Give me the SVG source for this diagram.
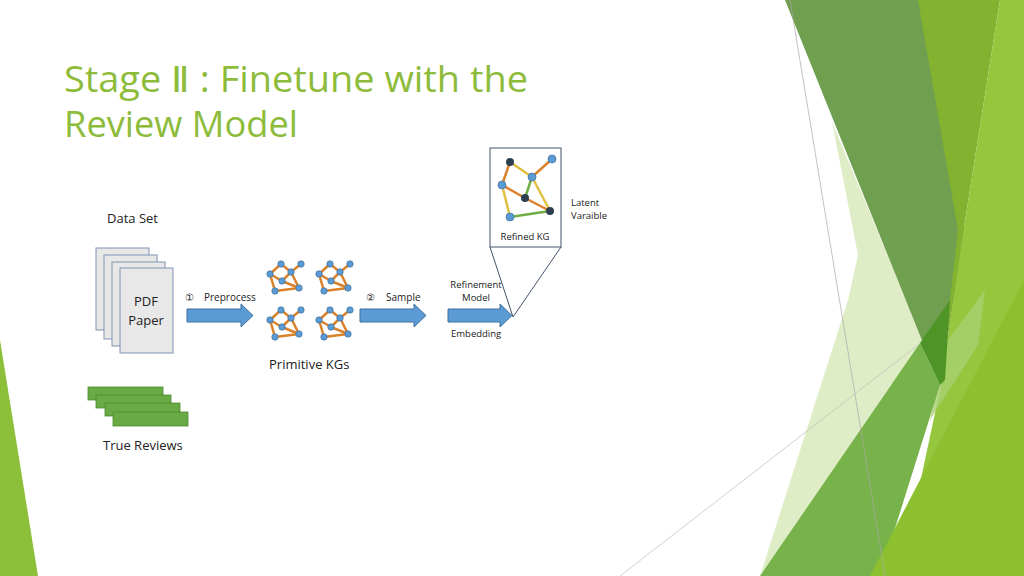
<svg xmlns="http://www.w3.org/2000/svg" width="1024" height="576" viewBox="0 0 1024 576">
<defs>
<style>
.t{font-family:"Open Sans","Liberation Sans",sans-serif;fill:#222}
.ttl{font-family:"Open Sans","Liberation Sans",sans-serif;fill:#8dbb3a;font-size:36px}
.pg{fill:#e8e8e8;stroke:#7f93b6;stroke-width:1}
.gb{fill:#6aaa45;stroke:#4e8a30;stroke-width:0.8}
.ar{fill:#5b9bd5;stroke:#41719c;stroke-width:1}
.e{stroke:#d9822b;stroke-width:2.5}
.n{fill:#5b9bd5;stroke:#41719c;stroke-width:0.7}
</style>
<g id="kg">
<g class="e"><line x1="11" y1="0" x2="0" y2="10"/><line x1="11" y1="0" x2="21" y2="8"/><line x1="21" y1="8" x2="31" y2="0"/><line x1="0" y1="10" x2="12" y2="17"/><line x1="21" y1="8" x2="12" y2="17"/><line x1="0" y1="10" x2="5" y2="27"/><line x1="12" y1="17" x2="29" y2="24"/><line x1="21" y1="8" x2="29" y2="24"/><line x1="5" y1="27" x2="29" y2="24"/></g>
<g class="n"><circle cx="11" cy="0" r="3.2"/><circle cx="31" cy="0" r="3.2"/><circle cx="21" cy="8" r="3.2"/><circle cx="0" cy="10" r="3.2"/><circle cx="12" cy="17" r="3.2"/><circle cx="5" cy="27" r="3.2"/><circle cx="29" cy="24" r="3.2"/></g>
</g>
</defs>
<rect width="1024" height="576" fill="#fff"/>
<g id="background">
<polygon points="832,122 925,345 790,576 760,576 848,300 858,255" fill="#dcebc0" opacity="0.9"/>
<polygon points="785,0 920,0 965,230 940,385" fill="#6f9f4f"/>
<polygon points="918,0 1000,0 962,240 940,385 958,230" fill="#82b230"/>
<polygon points="1000,0 1024,0 1024,576 900,576 940,390 962,240" fill="#96c63e"/>
<polygon points="948,340 985,290 978,345 930,420" fill="#a8d070" opacity="0.8"/>
<polygon points="760,576 920,343 940,385 880,576" fill="#78b24a"/>
<polygon points="920,343 950,300 945,380 940,385" fill="#4f9426"/>
<polygon points="870,576 1024,280 1024,576" fill="#8dc02f"/>
<polygon points="0,340 38,576 0,576" fill="#8dc03a"/>
<line x1="790" y1="0" x2="885" y2="576" stroke="#a9a9a9" stroke-width="0.7"/>
<line x1="620" y1="576" x2="918" y2="345" stroke="#bbbbbb" stroke-width="0.7"/>
</g>
<text class="ttl" x="64" y="92" textLength="464" lengthAdjust="spacingAndGlyphs">Stage Ⅱ : Finetune with the</text>
<text class="ttl" x="64" y="137" textLength="234" lengthAdjust="spacingAndGlyphs">Review Model</text>
<g id="dataset">
<text class="t" x="107" y="223" font-size="13">Data Set</text>
<rect class="pg" x="96" y="248" width="53" height="82"/>
<rect class="pg" x="104" y="255" width="53" height="84"/>
<rect class="pg" x="112" y="262" width="53" height="84"/>
<rect class="pg" x="120" y="268" width="53" height="85"/>
<text class="t" x="146" y="306" font-size="13" text-anchor="middle">PDF</text>
<text class="t" x="146" y="325" font-size="13" text-anchor="middle">Paper</text>
</g>
<g id="reviews">
<rect class="gb" x="88" y="387" width="75" height="13"/>
<rect class="gb" x="96" y="395" width="75" height="13"/>
<rect class="gb" x="105" y="403" width="75" height="13"/>
<rect class="gb" x="113" y="412" width="75" height="14"/>
<text class="t" x="103" y="450" font-size="13">True Reviews</text>
</g>
<g id="connectors">
<polygon class="ar" points="187,309 241,309 241,304 253,315.5 241,327 241,322 187,322"/>
<polygon class="ar" points="360,309 414,309 414,304 426,315.5 414,327 414,322 360,322"/>
<polygon class="ar" points="448,309 500,309 500,304 512,315.5 500,327 500,322 448,322"/>
<polyline points="490,247 513,317 561,247" fill="none" stroke="#44546a" stroke-width="1"/>
</g>
<text class="t" x="185" y="301" font-size="10">①</text>
<text class="t" x="204" y="301" font-size="10">Preprocess</text>
<text class="t" x="366" y="301" font-size="10">②</text>
<text class="t" x="386" y="301" font-size="10">Sample</text>
<text class="t" x="476" y="288" font-size="9.5" text-anchor="middle">Refinement</text>
<text class="t" x="476" y="301" font-size="9.5" text-anchor="middle">Model</text>
<text class="t" x="451" y="337" font-size="9.5">Embedding</text>
<g id="primitive">
<use href="#kg" x="270" y="264"/>
<use href="#kg" x="319" y="264"/>
<use href="#kg" x="270" y="310"/>
<use href="#kg" x="319" y="310"/>
<text class="t" x="269" y="369" font-size="13">Primitive KGs</text>
</g>
<g id="refined">
<rect x="490" y="148" width="71" height="99" fill="#fff" stroke="#44546a" stroke-width="1"/>
<g stroke-width="2.5">
<line x1="510" y1="162" x2="532" y2="177" stroke="#e0c040"/>
<line x1="532" y1="177" x2="552" y2="159" stroke="#d9822b"/>
<line x1="510" y1="162" x2="502" y2="185" stroke="#d9822b"/>
<line x1="502" y1="185" x2="525" y2="198" stroke="#d9822b"/>
<line x1="532" y1="177" x2="525" y2="198" stroke="#70ad47"/>
<line x1="532" y1="177" x2="550" y2="211" stroke="#e0c040"/>
<line x1="525" y1="198" x2="550" y2="211" stroke="#d9822b"/>
<line x1="502" y1="185" x2="510" y2="217" stroke="#e0c040"/>
<line x1="510" y1="217" x2="550" y2="211" stroke="#70ad47"/>
</g>
<g>
<circle cx="510" cy="162" r="4" fill="#2f3f52"/>
<circle cx="552" cy="159" r="4" class="n"/>
<circle cx="532" cy="177" r="4" class="n"/>
<circle cx="502" cy="185" r="4" class="n"/>
<circle cx="525" cy="198" r="4" fill="#2f3f52"/>
<circle cx="550" cy="211" r="4" fill="#2f3f52"/>
<circle cx="510" cy="217" r="4" class="n"/>
</g>
<text class="t" x="525" y="240" font-size="9.5" text-anchor="middle">Refined KG</text>
</g>
<text class="t" x="571" y="206" font-size="9.5">Latent</text>
<text class="t" x="571" y="219" font-size="9.5">Varaible</text>
</svg>
